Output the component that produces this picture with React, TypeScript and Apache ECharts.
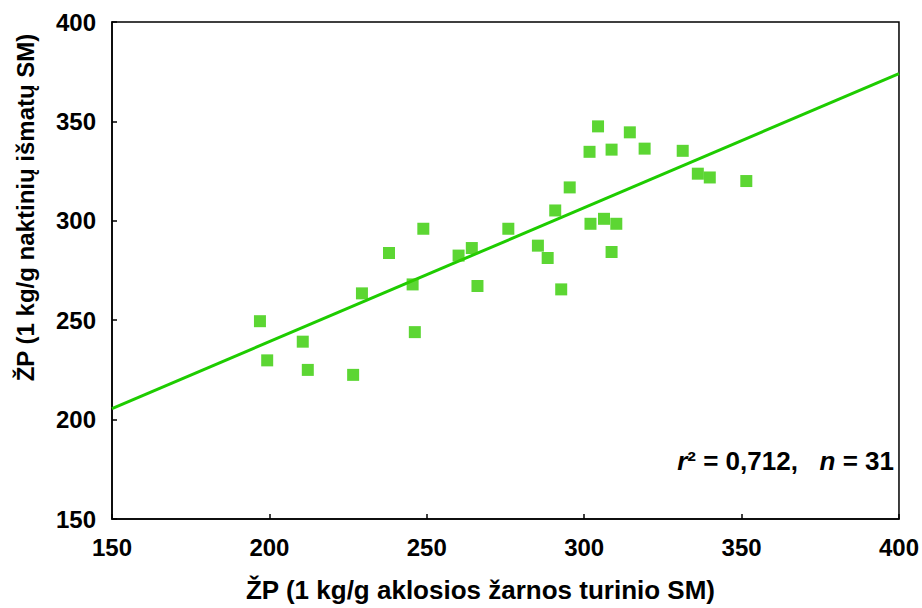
import React, { useEffect, useRef } from "react";
import * as echarts from "echarts";

const xTicks = [150, 200, 250, 300, 350, 400];
const yTicks = [150, 200, 250, 300, 350, 400];

const pointsX = [
  197, 199.3, 210.6, 212.2, 226.6, 229.4, 238, 245.5, 246.2, 248.9, 260.1, 264.3, 266.1,
  275.9, 285.3, 288.4, 290.8, 292.7, 295.4, 301.7, 302, 304.4, 306.3, 308.7, 308.7, 310.2,
  314.5, 319.2, 331.3, 336.1, 339.9, 351.5,
];
const pointsY = [
  249.5, 229.8, 239.2, 225, 222.5, 263.5, 283.8, 268, 244, 296, 282.5, 286.3, 267.2,
  296, 287.5, 281.3, 305.2, 265.5, 316.8, 334.7, 298.5, 347.5, 301, 335.8, 284.3, 298.5,
  344.5, 336.3, 335.2, 323.7, 321.8, 320,
];

const fitX = [150, 400];
const fitY = [205.5, 374];

const xTitle = "ŽP (1 kg/g aklosios žarnos turinio SM)";
const yTitle = "ŽP (1 kg/g naktinių išmatų SM)";

export default function App() {
  const ref = useRef<HTMLDivElement>(null);
  useEffect(() => {
    if (!ref.current) return;
    const chart = echarts.init(ref.current, null, { renderer: "svg" });
    const font = "'Liberation Sans', Arial, sans-serif";
    chart.setOption({
      animation: false,
      backgroundColor: "#fff",
      grid: {
        left: 112,
        top: 22,
        right: 23,
        bottom: 87,
        show: true,
        borderColor: "#000",
        borderWidth: 1.5,
        backgroundColor: "transparent",
      },
      xAxis: {
        type: "value",
        min: xTicks[0],
        max: xTicks[xTicks.length - 1],
        interval: 50,
        splitLine: { show: false },
        axisLine: { show: true, lineStyle: { color: "#000", width: 1.5 } },
        axisTick: { show: true, inside: true, length: 5, lineStyle: { color: "#000", width: 1.5 } },
        axisLabel: {
          color: "#000",
          fontSize: 24,
          fontWeight: "bold",
          fontFamily: font,
          margin: 16,
        },
        name: xTitle,
        nameLocation: "middle",
        nameGap: 58,
        nameTextStyle: {
          color: "#000",
          fontSize: 26,
          fontWeight: "bold",
          fontFamily: font,
          padding: [0, 50, 0, 0],
        },
      },
      yAxis: {
        type: "value",
        min: yTicks[0],
        max: yTicks[yTicks.length - 1],
        interval: 50,
        splitLine: { show: false },
        axisLine: { show: true, lineStyle: { color: "#000", width: 1.5 } },
        axisTick: { show: true, inside: true, length: 5, lineStyle: { color: "#000", width: 1.5 } },
        axisLabel: {
          color: "#000",
          fontSize: 24,
          fontWeight: "bold",
          fontFamily: font,
          margin: 16,
        },
        name: yTitle,
        nameLocation: "middle",
        nameRotate: 90,
        nameGap: 75,
        nameTextStyle: {
          color: "#000",
          fontSize: 24,
          fontWeight: "bold",
          fontFamily: font,
          padding: [0, 0, 0, 126],
        },
      },
      graphic: [
        {
          type: "text",
          right: 28,
          top: 448,
          style: {
            text: "{i|r}{n|² = 0,712,   }{i|n}{n| = 31}",
            rich: {
              i: { fontStyle: "italic", fontWeight: "bold", fontSize: 26, fontFamily: font, fill: "#000" },
              n: { fontWeight: "bold", fontSize: 26, fontFamily: font, fill: "#000" },
            },
          },
        },
      ],
      series: [
        {
          type: "line",
          data: fitX.map((x, i) => [x, fitY[i]]),
          symbol: "none",
          lineStyle: { color: "#1ecc00", width: 3 },
          z: 2,
        },
        {
          type: "scatter",
          data: pointsX.map((x, i) => [x, pointsY[i]]),
          symbol: "rect",
          symbolSize: 12,
          itemStyle: { color: "#33cc00" },
          z: 3,
        },
      ],
    });
    return () => chart.dispose();
  }, []);
  return <div ref={ref} style={{ width: 922, height: 608, position: "absolute", left: 0, top: 0 }} />;
}
